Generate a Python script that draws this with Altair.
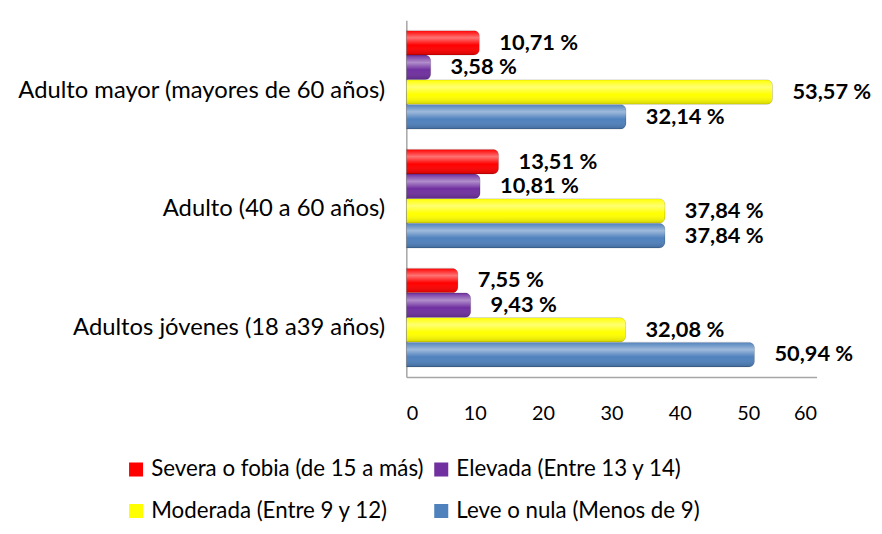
import altair as alt
import pandas as pd

categorias = [
    "Adulto mayor (mayores  de 60 años)",
    "Adulto (40 a 60 años)",
    "Adultos jóvenes (18 a39 años)",
]
series = [
    "Severa o fobia (de 15 a más)",
    "Elevada (Entre 13 y 14)",
    "Moderada (Entre 9 y 12)",
    "Leve o nula (Menos de 9)",
]
colores = ["#FF0000", "#7030A0", "#FFFF00", "#4F81BD"]

severa = [10.71, 13.51, 7.55]
elevada = [3.58, 10.81, 9.43]
moderada = [53.57, 37.84, 32.08]
leve = [32.14, 37.84, 50.94]

valores = [severa, elevada, moderada, leve]
rows = []
for s, vals in zip(series, valores):
    for c, v in zip(categorias, vals):
        rows.append({
            "grupo": c,
            "serie": s,
            "valor": v,
            "etiqueta": f"{v:.2f}".replace(".", ",") + " %",
        })
df = pd.DataFrame(rows)

FONT = "Lato"

y_enc = alt.Y(
    "grupo:N",
    sort=categorias,
    title=None,
    scale=alt.Scale(paddingInner=0.17, paddingOuter=0.085),
    axis=alt.Axis(
        labelFontSize=24,
        labelFont=FONT,
        labelColor="#000000",
        labelPadding=22,
        labelOffset=11,
        labelLimit=420,
        ticks=False,
        domainColor="#A6A6A6",
        domainWidth=1.5,
    ),
)
yoff = alt.YOffset("serie:N", sort=series, scale=alt.Scale(paddingInner=0, paddingOuter=0))
x_enc = alt.X(
    "valor:Q",
    title=None,
    scale=alt.Scale(domain=[0, 60], nice=False),
    axis=alt.Axis(
        values=[0, 10, 20, 30, 40, 50, 60],
        labelFontSize=20,
        labelFont=FONT,
        labelColor="#000000",
        labelPadding=27,
        ticks=False,
        grid=False,
        domainColor="#A6A6A6",
        domainWidth=1.5,
    ),
)

bars = alt.Chart(df).mark_bar(cornerRadiusEnd=6, stroke="#00000033", strokeWidth=0.6).encode(
    y=y_enc,
    yOffset=yoff,
    x=x_enc,
    color=alt.Color(
        "serie:N",
        sort=series,
        scale=alt.Scale(domain=series, range=colores),
        legend=alt.Legend(
            title=None,
            orient="none",
            direction="horizontal",
            legendX=-284,
            legendY=442,
            columns=2,
            symbolType="square",
            symbolSize=200,
            symbolStrokeWidth=0,
            labelFontSize=22.5,
            labelFont=FONT,
            labelColor="#000000",
            labelLimit=420,
            columnPadding=6,
            rowPadding=19,
        ),
    ),
)

shine = alt.Chart(df).mark_bar(
    cornerRadiusEnd=6,
    fill=alt.Gradient(
        gradient="linear",
        stops=[
            alt.GradientStop(color="rgba(255,255,255,0.0)", offset=0),
            alt.GradientStop(color="rgba(255,255,255,0.45)", offset=0.3),
            alt.GradientStop(color="rgba(255,255,255,0.0)", offset=0.6),
            alt.GradientStop(color="rgba(0,0,0,0.18)", offset=1),
        ],
        x1=0, x2=0, y1=0, y2=1,
    ),
).encode(y=y_enc, yOffset=yoff, x=x_enc)

texto = alt.Chart(df).mark_text(
    align="left", baseline="middle", dx=20, fontSize=22, fontWeight="bold", font=FONT, color="#000000"
).encode(y=y_enc, yOffset=yoff, x=x_enc, text="etiqueta:N")

chart = (
    alt.layer(bars, shine, texto)
    .properties(
        width=414,
        height=360,
        autosize=alt.AutoSizeParams(type="none"),
        padding={"left": 402, "top": 10, "right": 58, "bottom": 148},
    )
    .configure_view(stroke=None)
)

chart.save("out.html", embed_options={"renderer": "svg", "actions": False})
